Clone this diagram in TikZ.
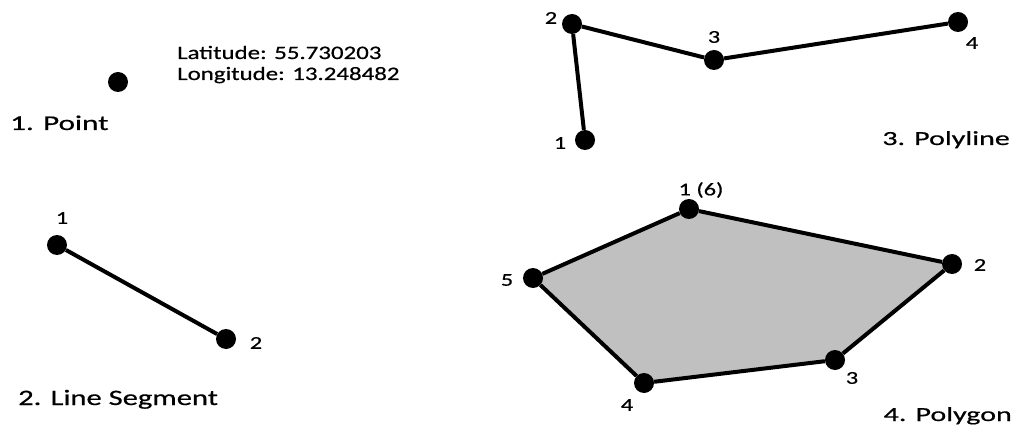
\documentclass[tikz,border=0pt]{standalone}
\usepackage{fontspec}
\setmainfont{Carlito}
\usetikzlibrary{positioning,calc,backgrounds}
\definecolor{polyfill}{HTML}{C0C0C0}
\newcommand\shapefont[2]{\fontsize{#1}{#1}\selectfont\addfontfeatures{FakeStretch=#2,FakeBold=0.6}}
\tikzset{
    vertex/.style={
        circle,
        fill=black,
        inner sep=0pt,
        minimum size=20pt
    },
    edge/.style={
        line width=4pt
    },
    lbl/.style={
        inner sep=0pt,
        font=\shapefont{18}{1.35}
    },
    caption/.style 2 args={
        inner sep=0pt,
        font=\shapefont{#1}{#2}
    }
}

\begin{document}
\begin{tikzpicture}[x=1pt, y=-1pt]

\useasboundingbox (0,0) rectangle (1024,430);

% 1. point
\node[vertex] (pt) at (118,82) {};
\node[caption={19}{1.31}, anchor=base west] (lat) at (177,59) {Latitude: 55.730203};
\node[caption={19}{1.31}, anchor=base west] (lon) at (177,80) {Longitude: 13.248482};
\node[caption={21}{1.48}, anchor=base west] (pt-cap) at (10,130) {1. Point};

% 2. line segment
\node[vertex] (ls1) at (57,245) {};
\node[vertex] (ls2) at (226,339) {};
\node[lbl] (ls1-lbl) at ($(ls1)+(5,-27)$) {1};
\node[lbl] (ls2-lbl) at ($(ls2)+(30,4)$) {2};
\node[caption={22}{1.39}, anchor=base west] (ls-cap) at (18,405) {2. Line Segment};

\draw[edge] (ls1) -- (ls2);

% 3. polyline
\node[vertex] (pl1) at (585,140) {};
\node[vertex] (pl2) at (572,24) {};
\node[vertex] (pl3) at (714,60) {};
\node[vertex] (pl4) at (958,22) {};
\node[lbl] (pl1-lbl) at ($(pl1)+(-25,3)$) {1};
\node[lbl] (pl2-lbl) at ($(pl2)+(-21,-6)$) {2};
\node[lbl] (pl3-lbl) at ($(pl3)+(0,-23)$) {3};
\node[lbl] (pl4-lbl) at ($(pl4)+(14,21)$) {4};
\node[caption={20}{1.5}, anchor=base east] (pl-cap) at (1010,145) {3. Polyline};

\draw[edge] (pl1) -- (pl2) -- (pl3) -- (pl4);

% 4. polygon
\node[vertex] (pg1) at (689,209) {};
\node[vertex] (pg2) at (952,264) {};
\node[vertex] (pg3) at (835,360) {};
\node[vertex] (pg4) at (644,383) {};
\node[vertex] (pg5) at (533,278) {};
\node[lbl] (pg1-lbl) at ($(pg1)+(12,-19)$) {1 (6)};
\node[lbl] (pg2-lbl) at ($(pg2)+(28,1)$) {2};
\node[lbl] (pg3-lbl) at ($(pg3)+(17,18)$) {3};
\node[lbl] (pg4-lbl) at ($(pg4)+(-17,22)$) {4};
\node[lbl] (pg5-lbl) at ($(pg5)+(-26,2)$) {5};
\node[caption={20}{1.5}, anchor=base east] (pg-cap) at (1012,421) {4. Polygon};

\begin{scope}[on background layer]
    \fill[polyfill] (pg1.center) -- (pg2.center) -- (pg3.center)
        -- (pg4.center) -- (pg5.center) -- cycle;
\end{scope}
\draw[edge] (pg1) -- (pg2) -- (pg3) -- (pg4) -- (pg5) -- (pg1);

\end{tikzpicture}
\end{document}
